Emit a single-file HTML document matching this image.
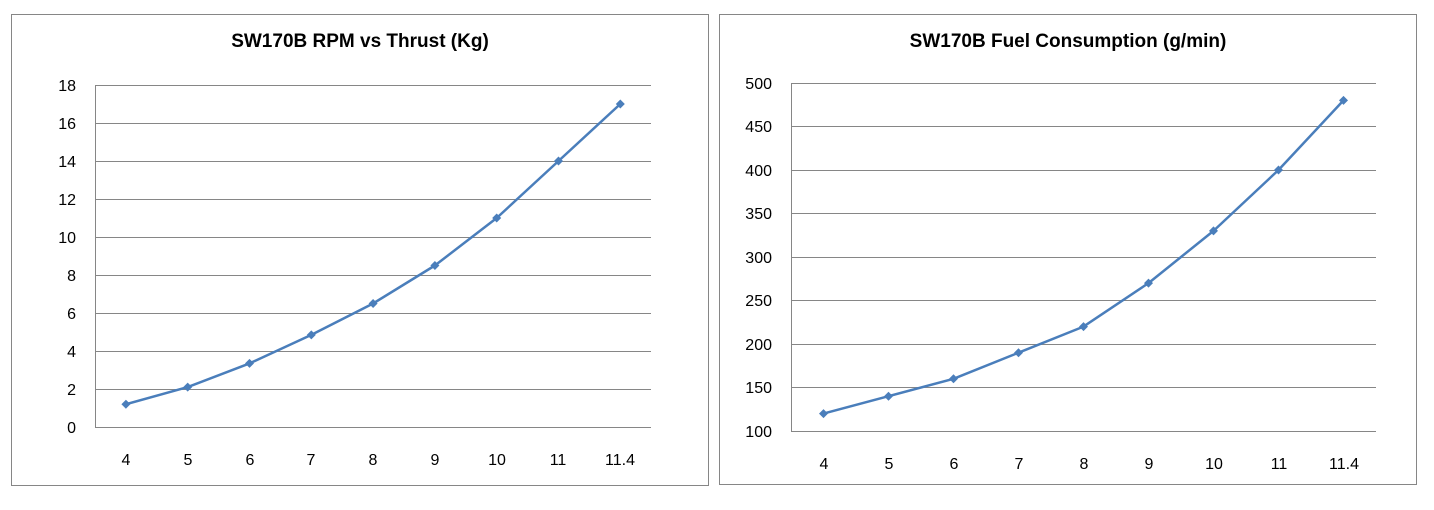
<!DOCTYPE html>
<html><head><meta charset="utf-8"><style>html,body{margin:0;padding:0;background:#fff}svg{display:block}</style></head>
<body>
<svg width="1434" height="510" xmlns="http://www.w3.org/2000/svg" font-family="Liberation Sans, sans-serif">
<rect x="11.5" y="14.5" width="697" height="471" fill="#fff" stroke="#868686"/>
<rect x="719.5" y="14.5" width="697" height="470" fill="#fff" stroke="#868686"/>
<text x="360" y="47" font-size="19" font-weight="bold" text-anchor="middle">SW170B RPM vs Thrust (Kg)</text>
<text x="1068" y="47" font-size="19" font-weight="bold" text-anchor="middle">SW170B Fuel Consumption (g/min)</text>
<g stroke="#868686" stroke-width="1">
<line x1="95" y1="85.5" x2="651" y2="85.5"/><line x1="95" y1="123.5" x2="651" y2="123.5"/><line x1="95" y1="161.5" x2="651" y2="161.5"/><line x1="95" y1="199.5" x2="651" y2="199.5"/><line x1="95" y1="237.5" x2="651" y2="237.5"/><line x1="95" y1="275.5" x2="651" y2="275.5"/><line x1="95" y1="313.5" x2="651" y2="313.5"/><line x1="95" y1="351.5" x2="651" y2="351.5"/><line x1="95" y1="389.5" x2="651" y2="389.5"/><line x1="95" y1="427.5" x2="651" y2="427.5"/>
<line x1="95.5" y1="85" x2="95.5" y2="428"/>
<line x1="791" y1="83.5" x2="1376" y2="83.5"/><line x1="791" y1="126.5" x2="1376" y2="126.5"/><line x1="791" y1="170.5" x2="1376" y2="170.5"/><line x1="791" y1="213.5" x2="1376" y2="213.5"/><line x1="791" y1="257.5" x2="1376" y2="257.5"/><line x1="791" y1="300.5" x2="1376" y2="300.5"/><line x1="791" y1="344.5" x2="1376" y2="344.5"/><line x1="791" y1="387.5" x2="1376" y2="387.5"/><line x1="791" y1="431.5" x2="1376" y2="431.5"/>
<line x1="791.5" y1="83" x2="791.5" y2="432"/>
</g>
<g font-size="16" text-anchor="end" fill="#000">
<text x="76" y="91">18</text><text x="76" y="129">16</text><text x="76" y="167">14</text><text x="76" y="205">12</text><text x="76" y="243">10</text><text x="76" y="281">8</text><text x="76" y="319">6</text><text x="76" y="357">4</text><text x="76" y="395">2</text><text x="76" y="433">0</text>
<text x="772" y="89">500</text><text x="772" y="132">450</text><text x="772" y="176">400</text><text x="772" y="219">350</text><text x="772" y="263">300</text><text x="772" y="306">250</text><text x="772" y="350">200</text><text x="772" y="393">150</text><text x="772" y="437">100</text>
</g>
<g font-size="16" text-anchor="middle">
<text x="126" y="465">4</text><text x="188" y="465">5</text><text x="250" y="465">6</text><text x="311" y="465">7</text><text x="373" y="465">8</text><text x="435" y="465">9</text><text x="497" y="465">10</text><text x="558" y="465">11</text><text x="620" y="465">11.4</text>
<text x="824" y="469">4</text><text x="889" y="469">5</text><text x="954" y="469">6</text><text x="1019" y="469">7</text><text x="1084" y="469">8</text><text x="1149" y="469">9</text><text x="1214" y="469">10</text><text x="1279" y="469">11</text><text x="1344" y="469">11.4</text>
</g>
<polyline fill="none" stroke="#4a7ebb" stroke-width="2.5" stroke-linejoin="round" points="125.9,404.2 187.7,387.1 249.5,363.4 311.3,334.9 373.1,303.5 434.9,265.5 496.7,218 558.5,161 620.3,104"/>
<polyline fill="none" stroke="#4a7ebb" stroke-width="2.5" stroke-linejoin="round" points="823.5,413.6 888.5,396.2 953.5,378.8 1018.5,352.7 1083.5,326.6 1148.5,283.1 1213.5,230.9 1278.5,170 1343.5,100.4"/>
<g fill="#4a7ebb">
<path d="M125.9,399.7l4.5,4.5l-4.5,4.5l-4.5,-4.5z"/><path d="M187.7,382.6l4.5,4.5l-4.5,4.5l-4.5,-4.5z"/><path d="M249.5,358.9l4.5,4.5l-4.5,4.5l-4.5,-4.5z"/><path d="M311.3,330.4l4.5,4.5l-4.5,4.5l-4.5,-4.5z"/><path d="M373.1,299l4.5,4.5l-4.5,4.5l-4.5,-4.5z"/><path d="M434.9,261l4.5,4.5l-4.5,4.5l-4.5,-4.5z"/><path d="M496.7,213.5l4.5,4.5l-4.5,4.5l-4.5,-4.5z"/><path d="M558.5,156.5l4.5,4.5l-4.5,4.5l-4.5,-4.5z"/><path d="M620.3,99.5l4.5,4.5l-4.5,4.5l-4.5,-4.5z"/>
<path d="M823.5,409.1l4.5,4.5l-4.5,4.5l-4.5,-4.5z"/><path d="M888.5,391.7l4.5,4.5l-4.5,4.5l-4.5,-4.5z"/><path d="M953.5,374.3l4.5,4.5l-4.5,4.5l-4.5,-4.5z"/><path d="M1018.5,348.2l4.5,4.5l-4.5,4.5l-4.5,-4.5z"/><path d="M1083.5,322.1l4.5,4.5l-4.5,4.5l-4.5,-4.5z"/><path d="M1148.5,278.6l4.5,4.5l-4.5,4.5l-4.5,-4.5z"/><path d="M1213.5,226.4l4.5,4.5l-4.5,4.5l-4.5,-4.5z"/><path d="M1278.5,165.5l4.5,4.5l-4.5,4.5l-4.5,-4.5z"/><path d="M1343.5,95.9l4.5,4.5l-4.5,4.5l-4.5,-4.5z"/>
</g>
</svg>
</body></html>
